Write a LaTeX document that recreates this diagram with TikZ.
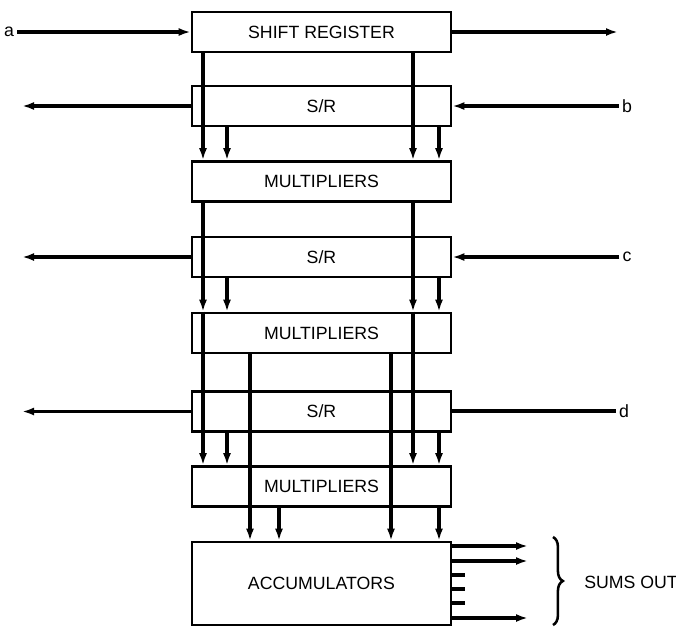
\documentclass[tikz,border=0pt]{standalone}
\usepackage{fontspec}
\setmainfont{Liberation Sans}
\usetikzlibrary{arrows.meta,positioning,decorations.pathreplacing}

\begin{document}
\begin{tikzpicture}[x=0.025cm,y=-0.025cm,
  font=\fontsize{12.6}{14}\selectfont,
  blk/.style={draw,line width=1.8pt,minimum width=6.475cm,minimum height=1cm,
              inner sep=0pt},
  accu/.style={blk,minimum height=2.075cm},
  wire/.style={line width=2.3pt},
  sig/.style={wire,-{Latex[length=3mm,width=2mm]}},
  lbl/.style={inner sep=2pt}]

\useasboundingbox (0,0) rectangle (676,627);

\node[blk] (sr)  at (321.5,32)    {SHIFT REGISTER};
\node[blk] (sr1) at (321.5,106)   {S/R};
\node[blk] (m1)  at (321.5,181.5) {MULTIPLIERS};
\node[blk] (sr2) at (321.5,257)   {S/R};
\node[blk] (m2)  at (321.5,333)   {MULTIPLIERS};
\node[blk] (sr3) at (321.5,411.5) {S/R};
\node[blk] (m3)  at (321.5,486.5) {MULTIPLIERS};
\node[accu] (acc) at (321.5,583.5) {ACCUMULATORS};

\node[lbl] (a) at (9,32)    {a};
\node[lbl] (b) at (627,106) {b};
\node[lbl] (c) at (627,257) {c};
\node[lbl] (d) at (624,411) {d};
\node (sums) at (631,582) {SUMS OUT};

\coordinate (xa) at (203,0);
\coordinate (xb) at (227,0);
\coordinate (xc) at (250,0);
\coordinate (xd) at (279,0);
\coordinate (xe) at (391,0);
\coordinate (xf) at (413,0);
\coordinate (xg) at (439,0);
\coordinate (lout) at (22,0);
\coordinate (rout) at (618,0);

\draw[sig] (a.east) -- (a.east -| sr.west);
\draw[sig] (sr.east) -- (sr.east -| rout);
\draw[sig] (b.west) -- (b.west -| sr1.east);
\draw[sig] (c.west) -- (c.west -| sr2.east);
\draw[wire] (d.west) -- (d.west -| sr3.east);
\foreach \r in {sr1,sr2,sr3}
  \draw[sig] (\r.west) -- (\r.west -| lout);

\foreach \x in {xa,xf} {
  \draw[sig] (\x |- sr.south) -- (\x |- m1.north);
  \draw[sig] (\x |- m1.south) -- (\x |- m2.north);
  \draw[sig] (\x |- m2.north) -- (\x |- m3.north);
}
\draw[sig] (xb |- sr1.south) -- (xb |- m1.north);
\draw[sig] (xg |- sr1.south) -- (xg |- m1.north);
\draw[sig] (xb |- sr2.south) -- (xb |- m2.north);
\draw[sig] (xg |- sr2.south) -- (xg |- m2.north);
\draw[sig] (xb |- sr3.south) -- (xb |- m3.north);
\draw[sig] (xg |- sr3.south) -- (xg |- m3.north);

\draw[sig] (xc |- m2.south) -- (xc |- acc.north);
\draw[sig] (xe |- m2.south) -- (xe |- acc.north);
\draw[sig] (xd |- m3.south) -- (xd |- acc.north);
\draw[sig] (xg |- m3.south) -- (xg |- acc.north);

\coordinate (q1) at (528,546);
\coordinate (q2) at (528,561);
\coordinate (q3) at (528,618);
\coordinate (t1) at (465,575);
\coordinate (t2) at (465,589);
\coordinate (t3) at (465,603);
\foreach \q in {q1,q2,q3}
  \draw[sig] (acc.east |- \q) -- (\q);
\foreach \t in {t1,t2,t3}
  \draw[wire] (acc.east |- \t) -- (\t);

\draw[line width=1.8pt,decorate,decoration={brace,amplitude=7pt}]
  (553,537) -- (553,625);
\end{tikzpicture}
\end{document}
